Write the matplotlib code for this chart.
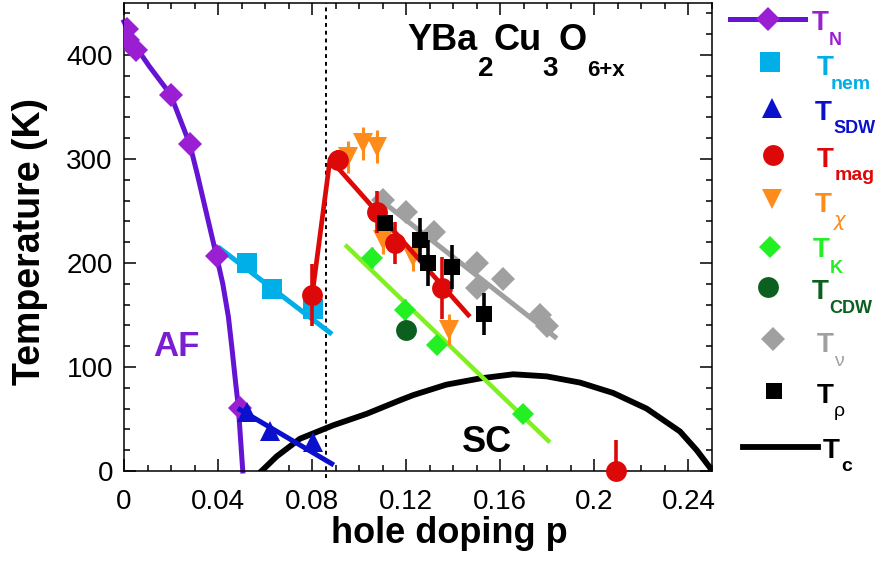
import matplotlib.pyplot as plt

W, H = 879, 578
plt.rcParams['font.family'] = ['Liberation Sans', 'DejaVu Sans']

# ---------------- data ----------------
# Neel temperature T_N (diamonds) and the guide curve through them
p_N = [0.0011, 0.0018, 0.005, 0.0198, 0.028, 0.0394, 0.0493]
T_N = [425, 414, 405, 362, 314, 207, 61]
p_N_line = [0, 0.005, 0.0108, 0.0198, 0.028, 0.0312, 0.0394, 0.042, 0.0444,
            0.046, 0.0475, 0.0486, 0.0505]
T_N_line = [432, 408, 389, 362, 314, 285, 206, 180, 148, 116, 84, 62, 0]

# nematic onset
p_nem = [0.0521, 0.0628, 0.0805]
T_nem = [200, 175, 156]
p_nem_line = [0.0408, 0.0876]
T_nem_line = [214, 133]

# spin density wave
p_sdw = [0.0521, 0.062, 0.0805]
T_sdw = [57, 38, 28]
p_sdw_line = [0.0493, 0.0883]
T_sdw_line = [59, 7]

# T_mag
p_mag = [0.080, 0.0911, 0.1074, 0.1152, 0.135, 0.209]
T_mag = [169, 299, 249, 219, 176, 0]
mag_err_lo = [30, 10, 20, 20, 30, 0]
mag_err_hi = [30, 10, 20, 20, 30, 30]
p_mag_line = [0.080, 0.0876, 0.1464]
T_mag_line = [169, 300, 150]

# T_chi
p_chi = [0.0953, 0.1017, 0.1074, 0.110, 0.123, 0.138]
T_chi = [302, 315, 312, 222, 206, 136]
chi_err = [15, 16, 16, 13, 14, 15]

# T_K
p_K = [0.1053, 0.1195, 0.133, 0.1698]
T_K = [205, 155, 121, 55]
K_err = [10, 10, 8, 8]
p_K_line = [0.0947, 0.1804]
T_K_line = [216, 29]

# T_CDW
p_cdw = [0.1201]
T_cdw = [136]

# T_nu
p_nu = [0.1102, 0.1201, 0.1318, 0.150, 0.161, 0.150, 0.1768, 0.1797]
T_nu = [261, 249, 230, 200, 185, 176, 150, 139]
p_nu_line = [0.1088, 0.1832]
T_nu_line = [261, 129]

# T_rho
p_rho = [0.111, 0.1259, 0.1294, 0.1393, 0.153]
T_rho = [238, 222, 200, 196, 151]
rho_err = [0, 21, 22, 21, 20]

# T_c dome
p_c = [0.0585, 0.0649, 0.0748, 0.089, 0.1032, 0.1173, 0.123, 0.137, 0.1513,
       0.1655, 0.1797, 0.1939, 0.208, 0.2222, 0.2364, 0.2435, 0.2499]
T_c = [0, 14, 31, 44, 55, 68, 73, 83, 89, 93, 91, 85, 75, 60, 38, 20, 1]

p_dotted = 0.0857

# colours
c_N_line, c_N = '#6414d2', '#9a1ed2'
c_nem = '#00aee8'
c_sdw = '#0a10cc'
c_mag = '#dd0808'
c_chi = '#ff8c1a'
c_K, c_K_line = '#22f022', '#80f020'
c_cdw = '#0b6020'
c_nu = '#a0a0a0'

fig = plt.figure(figsize=(W / 100, H / 100), dpi=100)
ax = fig.add_axes([124 / W, 1 - 471 / H, 588 / W, 468 / H])

ax.plot(p_N_line, T_N_line, '-', color=c_N_line, lw=3.6, zorder=2, clip_on=False)
ax.plot(p_N, T_N, 'D', color=c_N, ms=12, mew=0, zorder=3)

ax.plot(p_nem_line, T_nem_line, '-', color=c_nem, lw=3.6, zorder=2)
ax.plot(p_nem, T_nem, 's', color=c_nem, ms=14, mew=0, zorder=3)

ax.plot(p_sdw_line, T_sdw_line, '-', color=c_sdw, lw=3.6, zorder=3)
ax.plot(p_sdw, T_sdw, '^', color=c_sdw, ms=14, mew=0, zorder=4)

ax.plot(p_c, T_c, '-', color='black', lw=4.2, zorder=2)

ax.plot(p_K_line, T_K_line, '-', color=c_K_line, lw=3.2, zorder=3)
ax.errorbar(p_K, T_K, yerr=K_err, fmt='D', color=c_K, ms=11, mew=0,
            elinewidth=2, capsize=4, capthick=2, zorder=3)
ax.plot(p_cdw, T_cdw, 'o', color=c_cdw, ms=15, mew=0, zorder=4)

ax.plot(p_nu_line, T_nu_line, '-', color=c_nu, lw=3.6, zorder=3)
ax.plot(p_nu, T_nu, 'D', color=c_nu, ms=12, mew=0, zorder=3)

ax.errorbar(p_chi, T_chi, yerr=chi_err, fmt='v', color=c_chi, ms=14, mew=0,
            elinewidth=2.2, capsize=5, capthick=2.2, zorder=4)

ax.plot(p_mag_line, T_mag_line, '-', color=c_mag, lw=3.4, zorder=5)
ax.errorbar(p_mag, T_mag, yerr=[mag_err_lo, mag_err_hi], fmt='o', color=c_mag,
            ms=15, mew=0, elinewidth=2.6, capsize=5.5, capthick=2.6, zorder=5,
            clip_on=False)

ax.errorbar(p_rho, T_rho, yerr=rho_err, fmt='s', color='black', ms=12, mew=0,
            elinewidth=2.6, capsize=5.5, capthick=2.6, zorder=6)

ax.axvline(p_dotted, ymin=-0.015, ymax=1, color='black', ls=(0, (2, 2)),
           lw=1.4, clip_on=False, zorder=1)

ax.text(0.0123, 111, 'AF', color='#7a1ed2', fontsize=25, fontweight='bold')
ax.text(0.1437, 18, 'SC', color='black', fontsize=26, fontweight='bold')

ax.set_xlim(0, 0.25)
ax.set_ylim(0, 450)
ax.set_xticks([0, 0.04, 0.08, 0.12, 0.16, 0.2, 0.24])
ax.set_xticklabels(['0', '0.04', '0.08', '0.12', '0.16', '0.2', '0.24'])
ax.set_xticks([i * 0.01 for i in range(26)], minor=True)
ax.set_yticks([0, 100, 200, 300, 400])
ax.set_yticks(range(0, 451, 20), minor=True)
ax.tick_params(which='both', direction='in', top=True, right=True, width=1.1)
ax.tick_params(which='major', length=8.5)
ax.tick_params(which='minor', length=4.5)
ax.tick_params(axis='x', labelsize=20, pad=13)
ax.tick_params(axis='y', labelsize=20, pad=8)
for s in ax.spines.values():
    s.set_linewidth(1.1)

ax.set_xlabel('hole doping p', fontsize=26, fontweight='bold')
ax.xaxis.set_label_coords(0.554, -0.097)
ax.set_ylabel('Temperature (K)', fontsize=27, fontweight='bold')
ax.yaxis.set_label_coords(-0.13, 0.49)

# overlay axes in pixel coordinates for the title and the legend
lax = fig.add_axes([0, 0, 1, 1], zorder=10)
lax.set_xlim(0, W)
lax.set_ylim(H, 0)
lax.axis('off')
renderer = fig.canvas.get_renderer()


def ptext(x, y, s, size, color='black', weight='bold'):
    return lax.text(x, y, s, fontsize=size, color=color, fontweight=weight,
                    ha='left', va='baseline')


def chain(x, y, pieces, color='black'):
    # pieces: (text, size, baseline shift, weight)
    for s, size, dy, weight in pieces:
        t = ptext(x, y + dy, s, size, color, weight)
        x = t.get_window_extent(renderer).x1 + 0.5


# title YBa2Cu3O6+x
chain(407, 50, [('YBa', 26, 0, 'bold'), ('2', 20, 26, 'bold'),
                ('Cu', 26, 0, 'bold'), ('3', 20, 26, 'bold'),
                ('O', 26, 0, 'bold'), ('6+x', 16, 26, 'bold')])

# legend
lax.plot([730, 805], [19, 19], '-', color=c_N_line, lw=3.6)
lax.plot([768], [19], 'D', color=c_N, ms=12, mew=0)
lax.plot([770], [62], 's', color=c_nem, ms=14, mew=0)
lax.plot([772], [108], '^', color=c_sdw, ms=14, mew=0)
lax.plot([773], [155], 'o', color=c_mag, ms=15, mew=0)
lax.plot([772], [199], 'v', color=c_chi, ms=14, mew=0)
lax.plot([770], [247], 'D', color=c_K, ms=11, mew=0)
lax.plot([768], [287], 'o', color=c_cdw, ms=15, mew=0)
lax.plot([773], [339], 'D', color=c_nu, ms=12, mew=0)
lax.plot([774], [391], 's', color='black', ms=12, mew=0)
lax.plot([743, 818], [447, 447], '-', color='black', lw=4.2)

ptext(812, 30, 'T', 20, c_N)
ptext(829, 45, 'N', 13, c_N)
ptext(817, 75, 'T', 20, c_nem)
ptext(831, 89, 'nem', 14, c_nem)
ptext(815, 120, 'T', 20, c_sdw)
ptext(833, 133, 'SDW', 13, c_sdw)
ptext(817, 167, 'T', 20, c_mag)
ptext(835, 180, 'mag', 14, c_mag)
ptext(815, 212, 'T', 20, c_chi)
ptext(833, 226, r'$\chi$', 14, c_chi, weight='normal')
ptext(813, 257, 'T', 20, c_K)
ptext(830, 273, 'K', 13, c_K)
ptext(812, 299, 'T', 20, c_cdw)
ptext(829, 313, 'CDW', 13, c_cdw)
ptext(817, 352, 'T', 20, c_nu)
ptext(834, 366, 'ν', 14, c_nu, weight='normal')
ptext(817, 403, 'T', 20)
ptext(834, 416, 'ρ', 14, weight='normal')
ptext(823, 458, 'T', 20)
ptext(841, 471, 'c', 14)

fig.savefig('out.png', dpi=100)
